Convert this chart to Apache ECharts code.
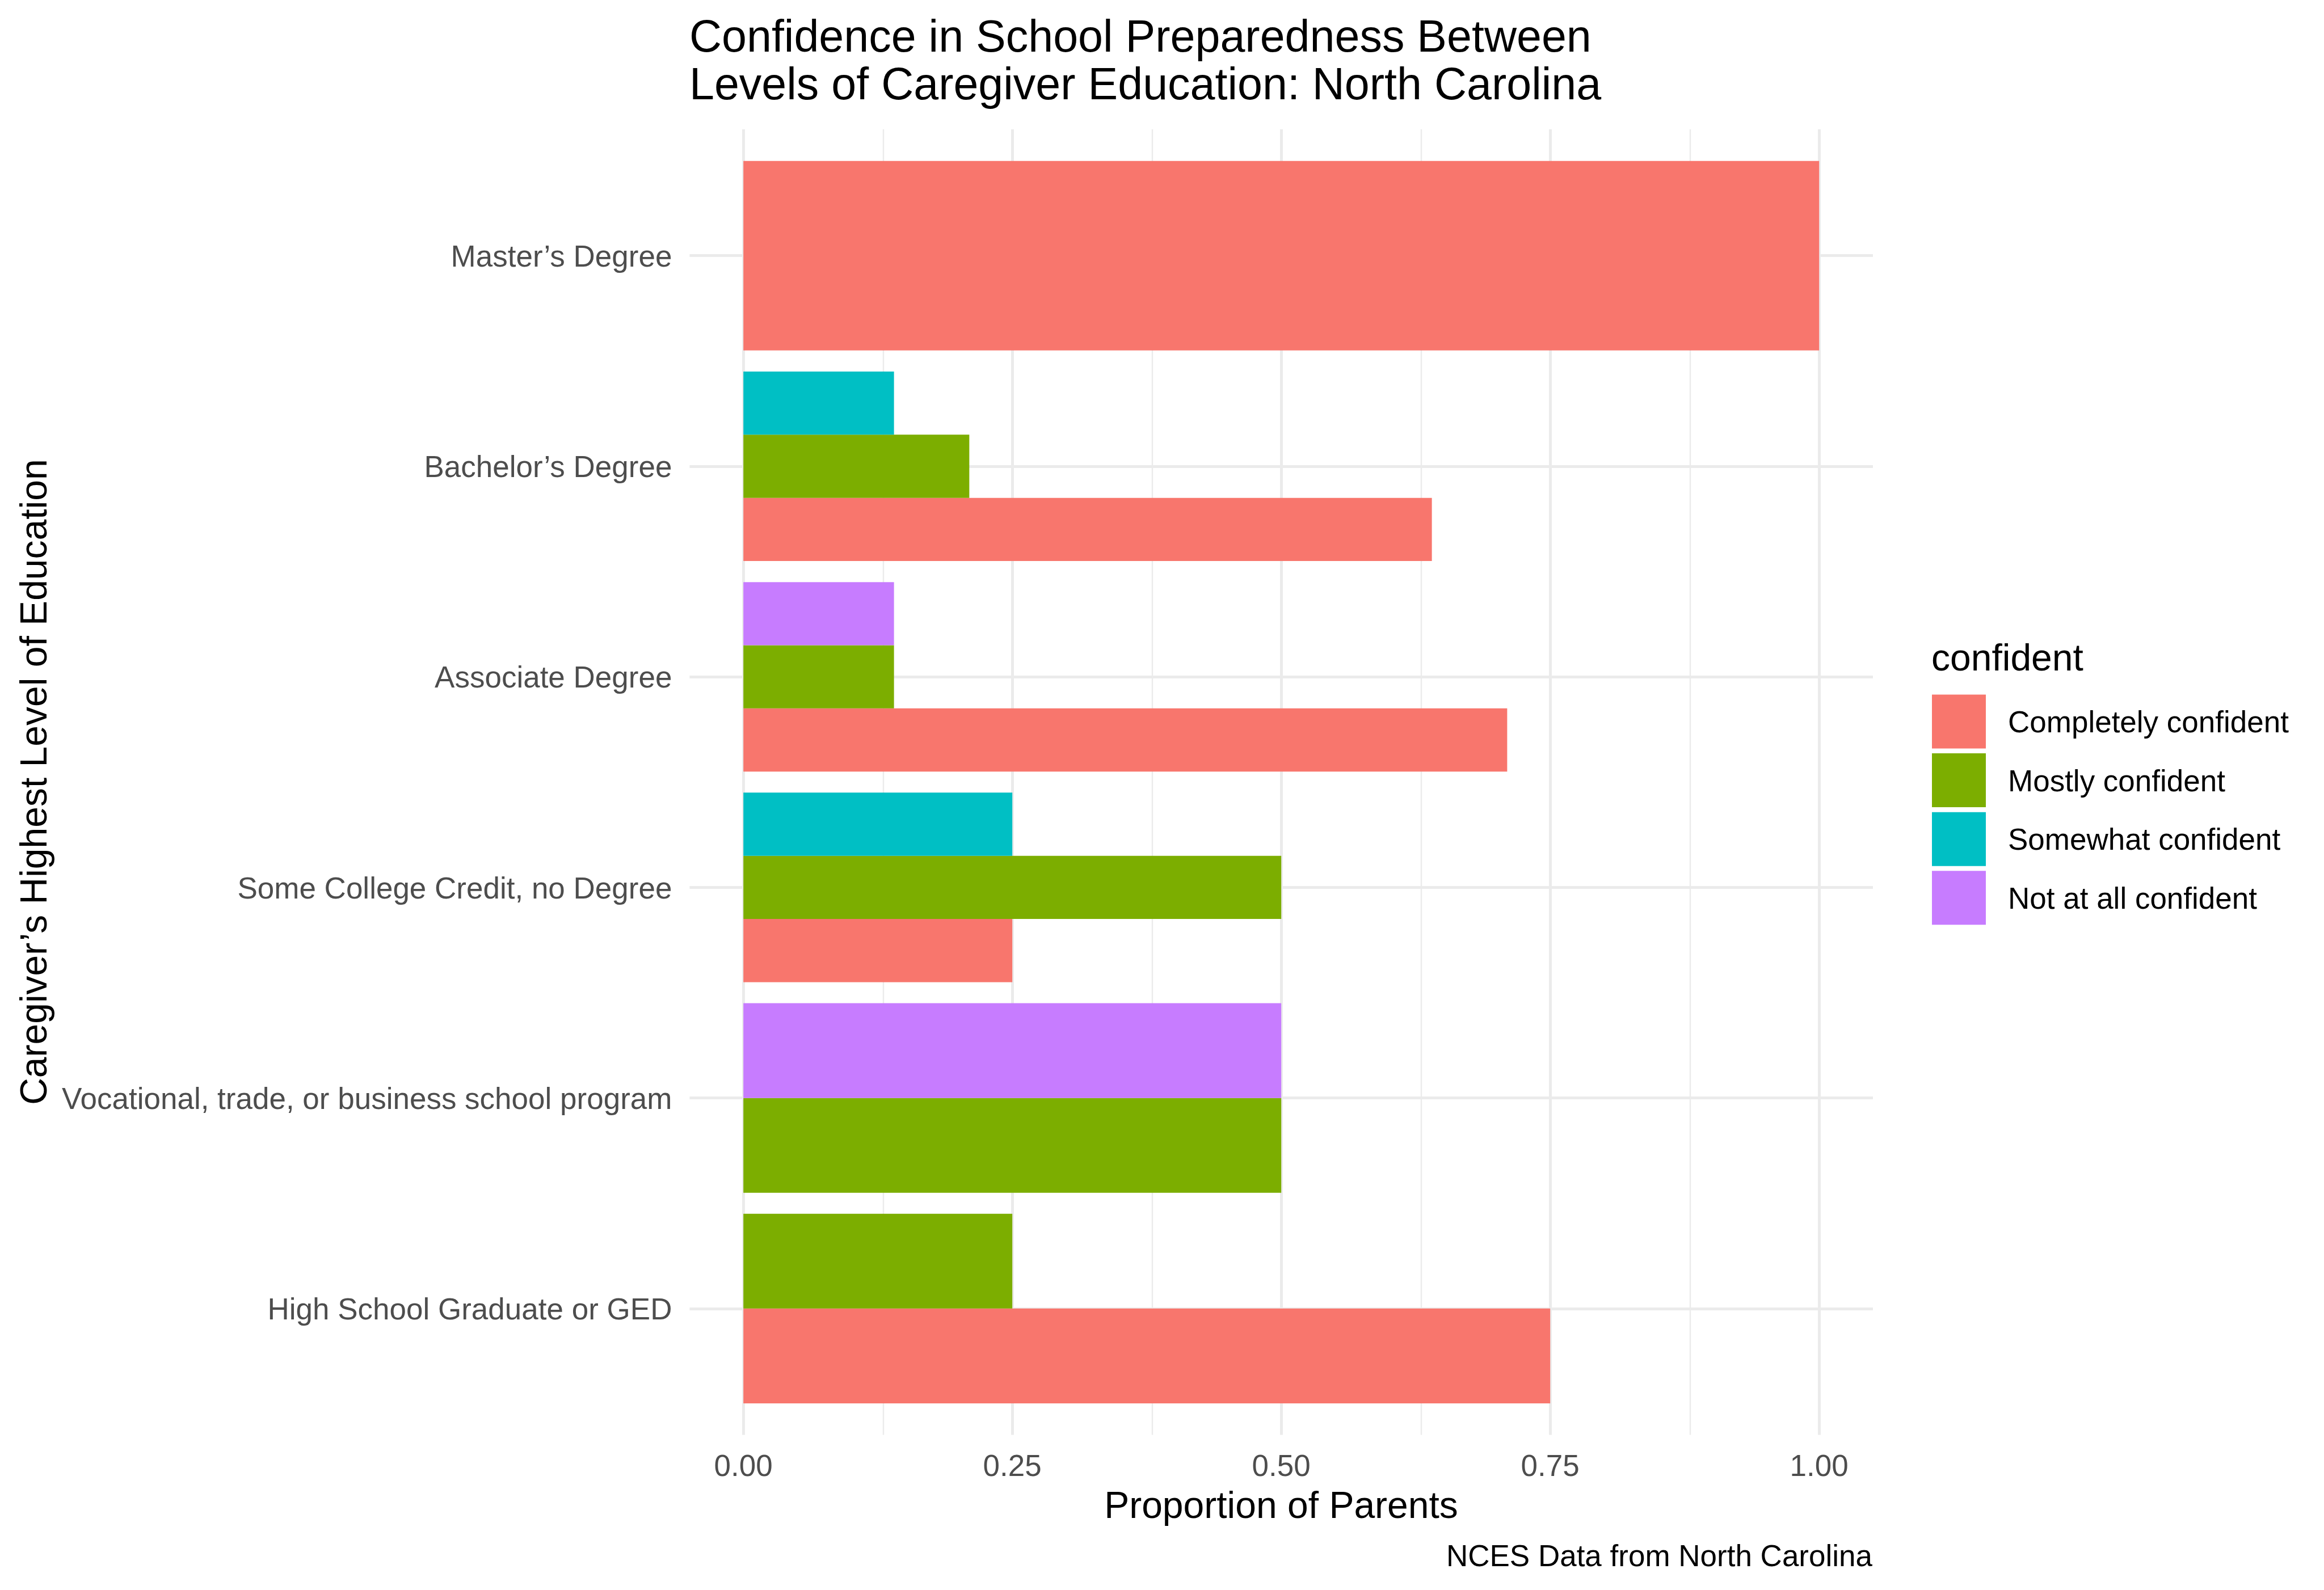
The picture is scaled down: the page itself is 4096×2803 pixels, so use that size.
<!DOCTYPE html>
<html><head><meta charset="utf-8">
<script src="https://cdn.jsdelivr.net/npm/echarts@6/dist/echarts.min.js"></script>
<style>html,body{margin:0;padding:0;background:#fff}#c{width:4096px;height:2803px}</style>
</head><body><div id="c"></div>
<script>
const categories = ["High School Graduate or GED","Vocational, trade, or business school program","Some College Credit, no Degree","Associate Degree","Bachelor’s Degree","Master’s Degree"];
const levels = ["Completely confident","Mostly confident","Somewhat confident","Not at all confident"];
const completely = [0.75, null, 0.25, 0.71, 0.64, 1.00];
const mostly     = [0.25, 0.50, 0.50, 0.14, 0.21, null];
const somewhat   = [null, null, 0.25, null, 0.14, null];
const notAtAll   = [null, 0.50, null, 0.14, null, null];
const xTicks = [0, 0.25, 0.5, 0.75, 1];
const xMinorTicks = [0.125, 0.375, 0.625, 0.875];
const colors = ['#F8766D','#7CAE00','#00BFC4','#C77CFF'];

const FONT = '"Liberation Sans", Arial, sans-serif';
const valuesByLevel = [completely, mostly, somewhat, notAtAll];
const catPos = categories.map((_, i) => i + 1);

function levelData(li) {
  const out = [];
  categories.forEach((_, ci) => {
    const v = valuesByLevel[li][ci];
    if (v == null) return;
    const present = valuesByLevel.map((arr, j) => arr[ci] != null ? j : -1).filter(j => j >= 0);
    out.push([v, catPos[ci], present.indexOf(li), present.length]);
  });
  return out;
}

function renderBar(params, api) {
  const v = api.value(0), c = api.value(1), k = api.value(2), n = api.value(3);
  const w = 0.9 / n;
  const y0 = c - 0.45 + k * w, y1 = y0 + w;
  const p0 = api.coord([0, y0]);
  const p1 = api.coord([v, y1]);
  return {
    type: 'rect',
    shape: { x: p0[0], y: p1[1], width: p1[0] - p0[0], height: p0[1] - p1[1] },
    style: { fill: api.visual('color') }
  };
}

const series = levels.map((name, li) => ({
  name, type: 'custom', renderItem: renderBar, z: 10, clip: false,
  itemStyle: { color: colors[li] },
  encode: { x: 0, y: 1 },
  data: levelData(li)
}));

const gridLineData = []
  .concat(xMinorTicks.map(v => ({ xAxis: v, lineStyle: { width: 2.4 } })))
  .concat(xTicks.map(v => ({ xAxis: v, lineStyle: { width: 5 } })))
  .concat(catPos.map(v => ({ yAxis: v, lineStyle: { width: 5 } })));

series.push({
  name: 'grid', type: 'line', data: [], z: 1, silent: true,
  markLine: {
    z: 1, silent: true, symbol: ['none', 'none'], animation: false,
    label: { show: false },
    lineStyle: { color: '#EBEBEB', type: 'solid', width: 5 },
    emphasis: { disabled: true },
    data: gridLineData
  }
});

const chart = echarts.init(document.getElementById('c'), null, { renderer: 'canvas' });
chart.setOption({
  animation: false,
  backgroundColor: '#ffffff',
  title: [{
    text: 'Confidence in School Preparedness Between\nLevels of Caregiver Education: North Carolina',
    left: 1215, top: 27.5, padding: 0,
    textStyle: { fontSize: 79, lineHeight: 83.6, fontWeight: 'normal', color: '#000', fontFamily: FONT }
  }],
  grid: { left: 1215.4, right: 795, top: 228, bottom: 273.4, containLabel: false, outerBoundsMode: 'none' },
  xAxis: {
    type: 'value', min: -0.05, max: 1.05,
    axisLine: { show: false }, axisTick: { show: false }, splitLine: { show: false },
    axisLabel: {
      customValues: xTicks, formatter: v => v.toFixed(2), margin: 31.5,
      fontSize: 53, lineHeight: 53, color: '#4D4D4D', fontFamily: FONT
    }
  },
  yAxis: {
    type: 'value', min: 0.4, max: 6.6,
    axisLine: { show: false }, axisTick: { show: false }, splitLine: { show: false },
    axisLabel: {
      customValues: catPos, formatter: v => categories[Math.round(v) - 1], margin: 31,
      fontSize: 53, lineHeight: 9, verticalAlign: 'top', color: '#4D4D4D', fontFamily: FONT
    }
  },
  legend: {
    data: levels, orient: 'vertical', left: 3405, top: 1224.5,
    itemWidth: 95, itemHeight: 95, itemGap: 8.6, icon: 'rect', padding: 0,
    selectedMode: false,
    itemStyle: { borderWidth: 0 },
    formatter: name => '{a|' + name + '}',
    textStyle: {
      fontSize: 53, color: '#000', fontFamily: FONT,
      rich: { a: { fontSize: 53, color: '#000', fontFamily: FONT, lineHeight: 53, padding: [9, 0, 0, 34] } }
    }
  },
  graphic: [
    { type: 'text', x: 2258, y: 2657.5, silent: true,
      style: { text: 'Proportion of Parents', fill: '#000', font: '66px ' + FONT, align: 'center', verticalAlign: 'middle' } },
    { type: 'text', x: 63.5, y: 1378.6, rotation: Math.PI / 2, silent: true,
      style: { text: 'Caregiver’s Highest Level of Education', fill: '#000', font: '66px ' + FONT, align: 'center', verticalAlign: 'middle' } },
    { type: 'text', x: 3300, y: 2746.5, silent: true,
      style: { text: 'NCES Data from North Carolina', fill: '#000', font: '53px ' + FONT, align: 'right', verticalAlign: 'middle' } },
    { type: 'text', x: 3404, y: 1163.5, silent: true,
      style: { text: 'confident', fill: '#000', font: '66px ' + FONT, align: 'left', verticalAlign: 'middle' } }
  ],
  series
});
</script>
</body></html>
